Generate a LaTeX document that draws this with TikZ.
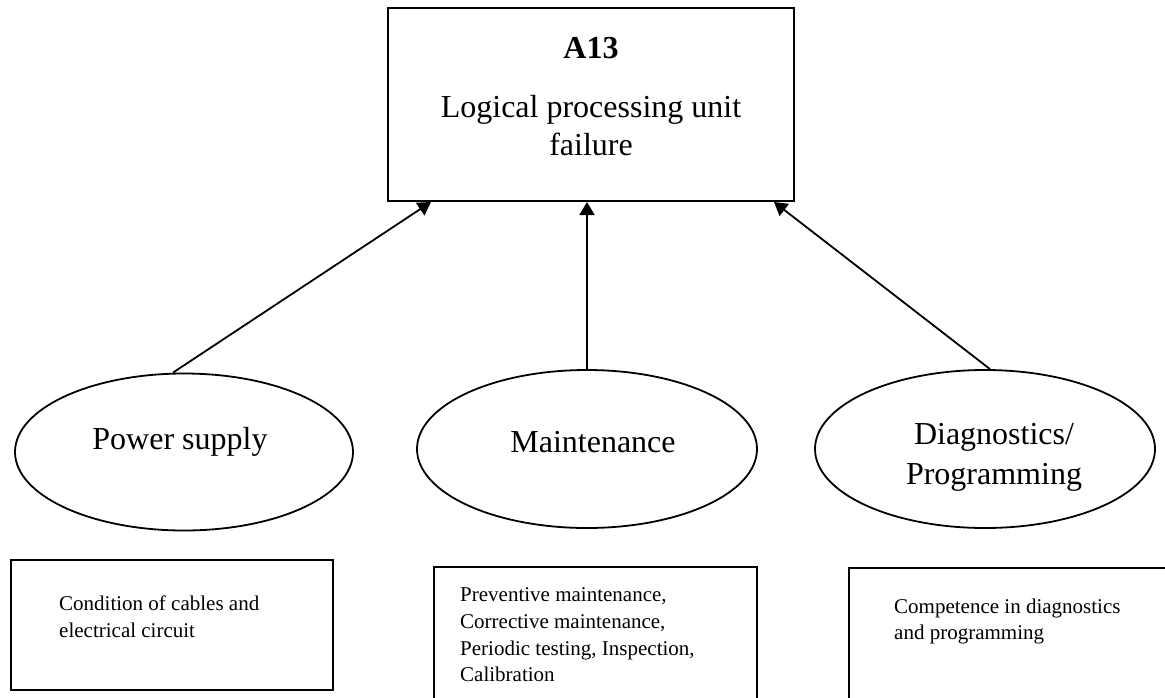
\documentclass[tikz,border=0pt]{standalone}
\usepackage{fontspec}
\setmainfont{Liberation Serif}
\usetikzlibrary{shapes.geometric,arrows.meta}
\begin{document}
\begin{tikzpicture}[x=1pt,y=-1pt,
  box/.style={draw, line width=2pt, rectangle, inner sep=0pt},
  oval/.style={draw, line width=1.8pt, ellipse, inner sep=0pt},
  big/.style={font=\fontsize{32}{38}\selectfont, align=center, inner sep=0pt},
  small/.style={font=\fontsize{21}{26.7}\selectfont, align=left, inner sep=0pt, anchor=west},
  link/.style={line width=1.8pt, -{Triangle[length=13pt,width=15pt]}}]
\useasboundingbox (0,0) rectangle (1165,697);

% failure event
\node[box, minimum width=406pt, minimum height=193pt] (top) at (591,104.5) {};
\node[big] (toptitle) at (591,48) {\textbf{A13}};
\node[big] (topname) at (591,126) {Logical processing unit\\failure};

% contributing factors
\node[oval, minimum width=338pt, minimum height=157pt] (ps) at (184,452) {};
\node[big] (pslabel) at (180,442) {Power supply};
\node[oval, minimum width=340pt, minimum height=158pt] (mt) at (587,449) {};
\node[big] (mtlabel) at (593,442) {Maintenance};
\node[oval, minimum width=340pt, minimum height=158pt] (dp) at (985,449) {};
\node[big, font=\fontsize{32}{40}\selectfont] (dplabel) at (994,457) {Diagnostics/\\Programming};

% detail boxes
\node[box, minimum width=322pt, minimum height=130pt] (psbox) at (172,625) {};
\node[small] (pstext) at (59,616.5) {Condition of cables and\\electrical circuit};
\node[box, minimum width=323pt, minimum height=153pt] (mtbox) at (595.5,643.5) {};
\node[small] (mttext) at (460,635) {Preventive maintenance,\\Corrective maintenance,\\Periodic testing, Inspection,\\Calibration};
\node[box, minimum width=331pt, minimum height=152pt] (dpbox) at (1014.5,644) {};
\node[small] (dptext) at (894,621.5) {Competence in diagnostics\\and programming};

% influence arrows
\draw[link] ([xshift=-11pt]ps.north) -- ([xshift=44pt]top.south west);
\draw[link] (mt.north) -- (mt.north |- top.south);
\draw[link] ([xshift=5pt]dp.north) -- ([xshift=-21pt]top.south east);
\end{tikzpicture}
\end{document}
